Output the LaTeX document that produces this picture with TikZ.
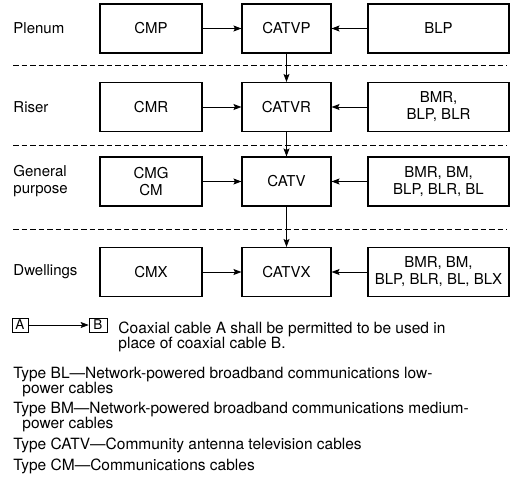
\documentclass[tikz,border=0pt]{standalone}
\usepackage{fontspec}
\setmainfont{TeX Gyre Heros}
\usetikzlibrary{arrows.meta}

\begin{document}
\begin{tikzpicture}[x=1pt,y=-1pt,line width=0.9pt,
    >={Stealth[length=8pt,width=6pt,inset=1.5pt]},
    font=\fontsize{15}{17}\selectfont]
    \tikzstyle{cable}=[draw,line width=1.1pt,inner sep=0pt,align=center,minimum height=49pt]
    \tikzstyle{cm cable}=[cable,minimum width=102pt]
    \tikzstyle{catv cable}=[cable,minimum width=89pt]
    \tikzstyle{b cable}=[cable,minimum width=141pt]
    \tikzstyle{area}=[anchor=west,align=left,inner sep=0pt]
    \tikzstyle{level}=[dash pattern=on 5.5pt off 3pt,line width=0.8pt]
    \tikzstyle{keybox}=[draw,line width=0.7pt,inner sep=0pt,minimum height=14pt,font=\fontsize{13.5}{13.5}\selectfont]
    \tikzstyle{note}=[anchor=north west,align=left,inner sep=0pt,font=\fontsize{15.5}{15}\selectfont]

    \useasboundingbox (0,0) rectangle (516,485);

    % Draw the spaces
    \node[area] (plenum) at (13,28.5) {Plenum};
    \node[area] (riser) at (13,107) {Riser};
    \node[area] (general) at (13,181.5) {General\\purpose};
    \node[area] (dwellings) at (13,272) {Dwellings};

    % Draw the cables of each space
    \node[cm cable] (CM-P) at (151,28.5) {CMP};
    \node[catv cable] (CATV-P) at (286.5,28.5) {CATVP};
    \node[b cable] (B-P) at (438.5,28.5) {BLP};

    \node[cm cable] (CM-R) at (151,107) {CMR};
    \node[catv cable] (CATV-R) at (286.5,107) {CATVR};
    \node[b cable] (B-R) at (438.5,107) {BMR,\\BLP, BLR};

    \node[cm cable] (CM-G) at (151,181.5) {CMG\\CM};
    \node[catv cable] (CATV-G) at (286.5,181.5) {CATV};
    \node[b cable] (B-G) at (438.5,181.5) {BMR, BM,\\BLP, BLR, BL};

    \node[cm cable] (CM-X) at (151,272) {CMX};
    \node[catv cable] (CATV-X) at (286.5,272) {CATVX};
    \node[b cable] (B-X) at (438.5,272) {BMR, BM,\\BLP, BLR, BL, BLX};

    % Separate the spaces
    \foreach \y in {65,145,229}
        \draw[level] (13,\y) -- (507,\y);

    % Connect the cables of each space to the CATV cable
    \foreach \r in {P,R,G,X} {
        \path (CM-\r) edge[->] (CATV-\r);
        \path (B-\r) edge[->] (CATV-\r);
    }
    \foreach \a / \b in {P/R,R/G,G/X}
        \path (CATV-\a) edge[->] (CATV-\b);

    % Key
    \node[keybox,minimum width=16pt] (key-A) at (20,325) {A};
    \node[keybox,minimum width=18pt] (key-B) at (98,325) {B};
    \path (key-A) edge[->,line width=0.7pt] (key-B);
    \node[note] (key-text) at (118,321.8)
        {Coaxial cable A shall be permitted to be used in\\place of coaxial cable B.};

    % Cable types
    \node[note] (type-BL) at (13,366.8)
        {Type BL---Network-powered broadband communications low-\\\hspace*{9pt}power cables};
    \node[note] (type-BM) at (13,401.8)
        {Type BM---Network-powered broadband communications medium-\\\hspace*{9pt}power cables};
    \node[note] (type-CATV) at (13,437.8) {Type CATV---Community antenna television cables};
    \node[note] (type-CM) at (13,458.8) {Type CM---Communications cables};
\end{tikzpicture}
\end{document}
